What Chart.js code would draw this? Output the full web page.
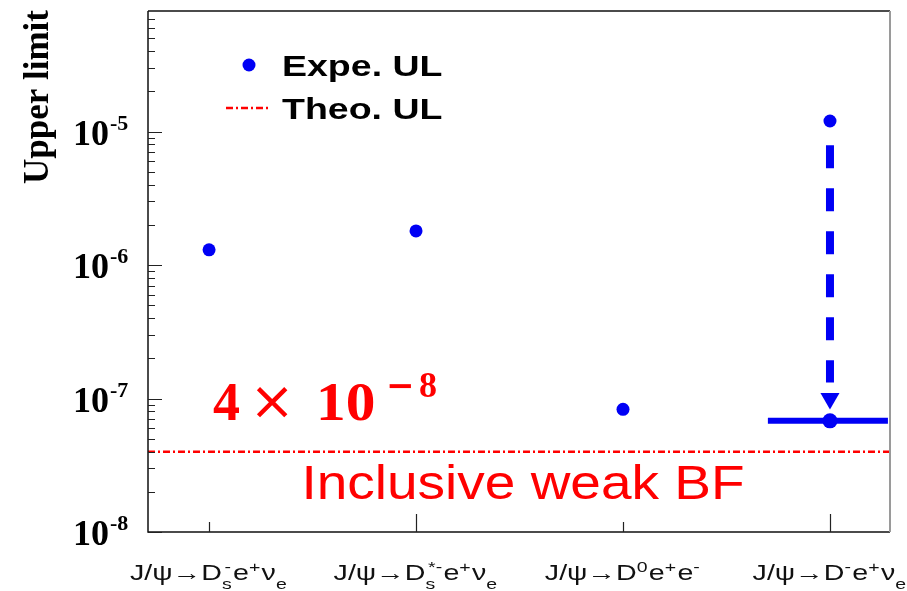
<!DOCTYPE html>
<html><head><meta charset="utf-8">
<script src="https://cdn.jsdelivr.net/npm/chart.js@4"></script>
<style>html,body{margin:0;padding:0;background:#fff}#wrap{width:907px;height:591px;position:relative}</style>
</head><body><div id="wrap"><canvas id="c"></canvas></div>
<script>
// ---------- data ----------
const categories = ["J/ψ→D_{s}^{-}e^{+}ν_{e}", "J/ψ→D_{s}^{*-}e^{+}ν_{e}", "J/ψ→D^{0}e^{+}e^{-}", "J/ψ→D^{-}e^{+}ν_{e}"];
const categoryPos = [0, 1, 2, 3];
const expeUL = [1.3e-6, 1.8e-6, 8.3e-8, 1.2e-5];
const improvedUL = 6.8e-8;            // improved limit, last channel
const improvedSpan = [2.70, 3.28];    // horizontal extent (category units)
const arrowFrom = 7.9e-6;
const arrowTo = 1.32e-7;
const arrowHead = 1.0e-7;
const theoUL = 4e-8;
const yDecades = [-8, -7, -6, -5];
const yMinorMult = [2, 3, 4, 5, 6, 7, 8, 9];
const seriesLabels = ["Expe. UL", "Theo. UL"];
const yTitle = "Upper limit";
const noteMantissa = "4";
const noteBase = "10";
const noteSign = "−";
const noteExponent = "8";
const noteText = "Inclusive weak BF";

// ---------- layout / style ----------
const xMin = -0.295, xMax = 3.29;
const yMin = 1e-8, yMax = 8e-5;
const BLUE = 'rgb(0,0,245)';
const RED = 'rgb(255,0,0)';

function parseRich(s){
  const out=[]; let i=0, buf='';
  while(i<s.length){
    const c=s[i];
    if((c==='_'||c==='^') && s[i+1]==='{'){
      if(buf){out.push({k:'n',t:buf});buf='';}
      const j=s.indexOf('}',i);
      out.push({k:c==='_'?'sub':'sup',t:s.slice(i+2,j)});
      i=j+1;
    } else {buf+=c;i++;}
  }
  if(buf) out.push({k:'n',t:buf});
  const m=[];
  for(let k=0;k<out.length;k++){
    if(out[k].k==='sub' && out[k+1] && out[k+1].k==='sup'){m.push({k:'both',sub:out[k].t,sup:out[k+1].t});k++;}
    else m.push(out[k]);
  }
  return m;
}
function richLayout(ctx, parts, size, fam){
  const ss = Math.round(size*0.68);
  let w=0; const items=[];
  for(const p of parts){
    if(p.k==='n'){ctx.font=size+'px '+fam; const pw=ctx.measureText(p.t).width; items.push({p,x:w}); w+=pw;}
    else if(p.k==='sub'||p.k==='sup'){ctx.font=ss+'px '+fam; const pw=ctx.measureText(p.t).width; items.push({p,x:w}); w+=pw+1;}
    else {ctx.font=ss+'px '+fam; const a=ctx.measureText(p.sub).width, b=ctx.measureText(p.sup).width; items.push({p,x:w}); w+=Math.max(a,b+2)+1;}
  }
  return {w,items,ss};
}
function drawRich(ctx, s, cx, base, size, fam, sx){
  const parts=parseRich(s);
  const L=richLayout(ctx, parts, size, fam);
  ctx.save();
  ctx.translate(cx, base);
  ctx.scale(sx,1);
  ctx.textAlign='left'; ctx.textBaseline='alphabetic';
  const x0=-L.w/2;
  for(const it of L.items){
    const p=it.p;
    if(p.k==='n'){ctx.font=size+'px '+fam; ctx.fillText(p.t,x0+it.x,0);}
    else if(p.k==='sub'){ctx.font=L.ss+'px '+fam; ctx.fillText(p.t,x0+it.x,size*0.42);}
    else if(p.k==='sup'){ctx.font=L.ss+'px '+fam; ctx.fillText(p.t,x0+it.x,-size*0.38);}
    else {ctx.font=L.ss+'px '+fam; ctx.fillText(p.sub,x0+it.x,size*0.42); ctx.fillText(p.sup,x0+it.x+2,-size*0.38);}
  }
  ctx.restore();
}

const overlay = {
  id:'overlay',
  afterDraw(chart){
    const ctx=chart.ctx, a=chart.chartArea, xs=chart.scales.x, ys=chart.scales.y;
    ctx.save();
    // frame
    ctx.strokeStyle='#111'; ctx.lineWidth=1.5;
    ctx.beginPath();
    ctx.moveTo(a.left, a.top); ctx.lineTo(a.left, a.bottom); ctx.lineTo(a.right, a.bottom);
    ctx.moveTo(a.left, a.top); ctx.lineTo(a.right, a.top);
    ctx.stroke();
    ctx.strokeStyle='#9a9a9a'; ctx.lineWidth=2;
    ctx.beginPath(); ctx.moveTo(a.right, a.top); ctx.lineTo(a.right, a.bottom); ctx.stroke();
    // y ticks (inside)
    ctx.strokeStyle='#222'; ctx.lineWidth=1.2;
    ctx.beginPath();
    for(const d of yDecades.concat([yDecades[yDecades.length-1]+1])){
      const v=Math.pow(10,d);
      if(v>=yMin && v<=yMax){const y=Math.round(ys.getPixelForValue(v))+0.5; ctx.moveTo(a.left,y); ctx.lineTo(a.left+14,y);}
      for(const m of yMinorMult){
        const vm=m*Math.pow(10,d);
        if(vm>yMin && vm<yMax){const y=Math.round(ys.getPixelForValue(vm))+0.5; ctx.moveTo(a.left,y); ctx.lineTo(a.left+7,y);}
      }
    }
    ctx.stroke();
    // x ticks
    ctx.beginPath();
    categoryPos.forEach((c,i)=>{
      const x=Math.round(xs.getPixelForValue(c))+0.5;
      const len = (i%2===1)?18:10;
      ctx.moveTo(x,a.bottom); ctx.lineTo(x,a.bottom-len);
    });
    ctx.stroke();
    // y tick labels
    ctx.fillStyle='#000';
    ctx.textAlign='left'; ctx.textBaseline='alphabetic';
    for(const d of yDecades){
      const y=ys.getPixelForValue(Math.pow(10,d));
      ctx.font='bold 36px "Liberation Serif"';
      ctx.fillText('10', 73, y+13);
      const w=ctx.measureText('10').width;
      ctx.font='bold 22px "Liberation Serif"';
      ctx.fillText('-'+(-d), 73+w+1, y-2);
    }
    // y title
    ctx.save();
    ctx.translate(48, a.top-1);
    ctx.rotate(-Math.PI/2);
    ctx.textAlign='right'; ctx.textBaseline='alphabetic';
    ctx.font='bold 35px "Liberation Serif"';
    ctx.fillText(yTitle,0,0);
    ctx.restore();
    // x labels
    ctx.fillStyle='#111';
    categories.forEach((c,i)=>{
      drawRich(ctx, c, xs.getPixelForValue(categoryPos[i]), 580, 22, '"Liberation Sans"', 1.3);
    });
    // legend
    ctx.fillStyle=BLUE;
    ctx.beginPath(); ctx.arc(249,65,6.5,0,Math.PI*2); ctx.fill();
    ctx.strokeStyle=RED; ctx.lineWidth=2.5; ctx.setLineDash([7,3,2,3]);
    ctx.beginPath(); ctx.moveTo(226,108); ctx.lineTo(270,108); ctx.stroke();
    ctx.setLineDash([]);
    ctx.fillStyle='#000';
    ctx.font='bold 30px "Liberation Sans"';
    for(const [i,t] of seriesLabels.entries()){
      ctx.save(); ctx.translate(282, i===0?76:119); ctx.scale(1.25,1); ctx.fillText(t,0,0); ctx.restore();
    }
    // annotation 4 x 10^-8
    ctx.fillStyle=RED;
    ctx.font='bold 54px "Liberation Serif"';
    ctx.fillText(noteMantissa, 213, 420);
    ctx.font='54px "DejaVu Sans"';
    ctx.textAlign='center';
    ctx.fillText('×', 272, 419);
    ctx.textAlign='left';
    ctx.font='bold 54px "Liberation Serif"';
    ctx.save(); ctx.translate(316,420); ctx.scale(1.1,1); ctx.fillText(noteBase,0,0); ctx.restore();
    ctx.font='bold 34px "DejaVu Sans"';
    ctx.fillText(noteSign, 386, 397);
    ctx.font='bold 36px "Liberation Serif"';
    ctx.fillText(noteExponent, 419, 397);
    // inclusive weak BF
    ctx.font='49px "Liberation Sans"';
    const tw=ctx.measureText(noteText).width;
    ctx.save(); ctx.translate(523,499); ctx.scale(443/tw,1); ctx.textAlign='center'; ctx.fillText(noteText,0,0); ctx.restore();
    ctx.restore();
  }
};

new Chart(document.getElementById('c'), {
  type:'scatter',
  data:{datasets:[
    {label:seriesLabels[0], data:categoryPos.map((x,i)=>({x, y:expeUL[i]})), showLine:false,
     pointRadius:6.5, pointBackgroundColor:BLUE, pointBorderColor:BLUE, pointBorderWidth:0},
    {label:'improved', data:[{x:improvedSpan[0],y:improvedUL},{x:categoryPos[3],y:improvedUL},{x:improvedSpan[1],y:improvedUL}],
     showLine:true, borderColor:BLUE, borderWidth:6, pointRadius:[0,7.5,0], pointBackgroundColor:BLUE, pointBorderWidth:0, borderCapStyle:'butt'},
    {label:'arrowHead', data:[{x:categoryPos[3], y:arrowHead}], showLine:false, pointStyle:'triangle', rotation:180,
     pointRadius:11, pointBackgroundColor:BLUE, pointBorderColor:BLUE, pointBorderWidth:0},
    {label:'arrow', data:[{x:categoryPos[3],y:arrowFrom},{x:categoryPos[3],y:arrowTo}], showLine:true,
     borderColor:BLUE, borderWidth:8, borderDash:[23,20], borderCapStyle:'butt', pointRadius:0},
    {label:seriesLabels[1], data:[{x:xMin,y:theoUL},{x:xMax,y:theoUL}], showLine:true,
     borderColor:RED, borderWidth:2.5, borderDash:[7,3,2,3], pointRadius:0}
  ]},
  options:{
    responsive:true, maintainAspectRatio:false, animation:false,
    layout:{padding:{top:8,right:17,left:0,bottom:0}},
    plugins:{legend:{display:false}, tooltip:{enabled:false}},
    scales:{
      x:{type:'linear', min:xMin, max:xMax, ticks:{display:false}, grid:{display:false}, border:{display:false},
         afterFit(s){s.height=59;}},
      y:{type:'logarithmic', min:yMin, max:yMax, ticks:{display:false}, grid:{display:false}, border:{display:false},
         afterFit(s){s.width=148;}}
    }
  },
  plugins:[overlay]
});
</script>
</body></html>
